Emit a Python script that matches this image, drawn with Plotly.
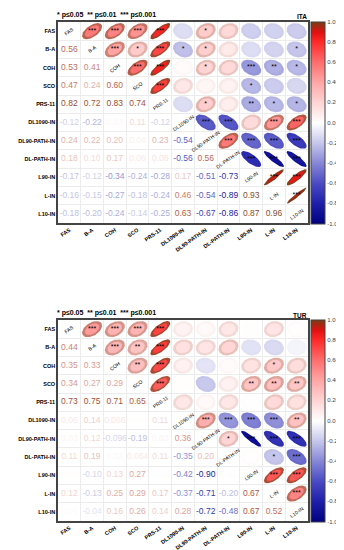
import numpy as np
import plotly.graph_objects as go

labels = ["FAS", "B-A", "COH", "SCO", "PRS-11", "DL1090-IN", "DL90-PATH-IN",
          "DL-PATH-IN", "L90-IN", "L-IN", "L10-IN"]

# lower-triangle correlations, row by row (row i, columns 0..i-1)
ita_lower = [
    [],
    [0.56],
    [0.53, 0.41],
    [0.47, 0.24, 0.60],
    [0.82, 0.72, 0.83, 0.74],
    [-0.12, -0.22, 0.02, 0.11, -0.12],
    [0.24, 0.22, 0.20, 0.04, 0.23, -0.54],
    [0.18, 0.10, 0.17, 0.06, 0.08, -0.56, 0.56],
    [-0.17, -0.12, -0.34, -0.24, -0.28, 0.17, -0.51, -0.73],
    [-0.16, -0.15, -0.27, -0.18, -0.24, 0.46, -0.54, -0.89, 0.93],
    [-0.18, -0.20, -0.24, -0.14, -0.25, 0.63, -0.67, -0.86, 0.87, 0.96],
]
ita_stars = [
    [],
    [3],
    [3, 3],
    [3, 1, 3],
    [3, 3, 3, 3],
    [0, 1, 0, 0, 0],
    [1, 1, 1, 0, 1, 3],
    [0, 0, 0, 0, 0, 3, 3],
    [0, 0, 3, 1, 2, 0, 3, 3],
    [0, 0, 2, 0, 1, 3, 3, 3, 3],
    [0, 1, 1, 0, 1, 3, 3, 3, 3, 3],
]
tur_lower = [
    [],
    [0.44],
    [0.35, 0.33],
    [0.34, 0.27, 0.29],
    [0.73, 0.75, 0.71, 0.65],
    [0.06, 0.14, 0.066, 0.004, 0.11],
    [0.03, 0.12, -0.096, -0.19, 0.03, 0.36],
    [0.11, 0.19, 0.02, 0.064, 0.11, -0.35, 0.20],
    [0.004, -0.10, 0.13, 0.27, 0.006, -0.42, -0.90, 0.01],
    [0.12, -0.13, 0.25, 0.29, 0.17, -0.37, -0.71, -0.20, 0.67],
    [0.01, -0.04, 0.16, 0.26, 0.14, 0.28, -0.72, -0.48, 0.67, 0.52],
]
tur_stars = [
    [],
    [3],
    [3, 3],
    [3, 2, 2],
    [3, 3, 3, 3],
    [0, 0, 0, 0, 0],
    [0, 0, 0, 0, 0, 3],
    [0, 0, 0, 0, 0, 3, 1],
    [0, 0, 0, 2, 0, 3, 3, 0],
    [0, 0, 1, 2, 0, 3, 3, 1, 3],
    [0, 0, 0, 2, 0, 2, 3, 3, 3, 3],
]
cbar_vals = [1.0, 0.8, 0.6, 0.4, 0.2, 0.0, -0.2, -0.4, -0.6, -0.8, -1.0]
cbar_text = ["1.0", "0.80", "0.60", "0.40", "0.20", "0.0", "-0.20", "-0.40", "-0.60", "-0.80", "-1.0"]

FONT = "Liberation Sans, Arial, sans-serif"
stops = [(-1.0, '#000080'), (-0.8, '#1E1EAA'), (-0.6, '#4A4AC4'), (-0.4, '#8686D6'),
         (-0.2, '#C6C6EC'), (0.0, '#FFFFFF'), (0.2, '#FFD4D4'), (0.4, '#FFA6A6'),
         (0.6, '#FF6E6E'), (0.8, '#FF2A2A'), (0.9, '#E01010'), (1.0, '#7A3C14')]


def h2r(h):
    return np.array([int(h[k:k + 2], 16) for k in (1, 3, 5)], dtype=float)


def scol(v):
    for (v0, c0), (v1, c1) in zip(stops[:-1], stops[1:]):
        if v0 <= v <= v1:
            t = (v - v0) / (v1 - v0)
            return h2r(c0) * (1 - t) + h2r(c1) * t
    return h2r(stops[-1][1])


def blend(c, h, w):
    return c * (1 - w) + h2r(h) * w


def rgb(c):
    return 'rgb(%d,%d,%d)' % tuple(int(round(x)) for x in c)


def fmt(v):
    if abs(v) >= 0.1:
        return f"{v:.2f}"
    return f"{v:.2g}"


colorscale = [[(v + 1) / 2, h] for v, h in stops]

fig = go.Figure()

panels = [
    ("ITA", ita_lower, ita_stars, "x", "y", 14, 215),
    ("TUR", tur_lower, tur_stars, "x2", "y2", 312, 513),
]
W, H = 344, 550
n = len(labels)
ang = np.linspace(0, 2 * np.pi, 72)
annotations = []

for name, lower, stars, xa, ya, top, bot in panels:
    # ellipses in upper triangle
    sx, sy, st = [], [], []
    for i in range(n):
        for j in range(i):
            r = lower[i][j]
            d = np.arccos(np.clip(r, -0.999, 0.999))
            ex = np.cos(ang + d / 2)
            ey = np.cos(ang - d / 2)
            c = scol(r)
            if r > 0:
                outer = blend(c, '#6E4A22', min(0.75, 0.85 * r))
            else:
                outer = blend(c, '#101060', 0.12 * abs(r))
            for s, fc in ((1.0, outer), (0.72, c)):
                fig.add_trace(go.Scatter(
                    x=i + 0.44 * s * ex, y=j - 0.44 * s * ey, xaxis=xa, yaxis=ya,
                    mode='lines', fill='toself', fillcolor=rgb(fc),
                    line=dict(width=0), hoverinfo='skip', showlegend=False))
            if stars[i][j] > 0:
                sx.append(i)
                sy.append(j)
                st.append('*' * stars[i][j])
    fig.add_trace(go.Scatter(x=sx, y=sy, text=st, mode='text', xaxis=xa, yaxis=ya,
                             textposition='middle center',
                             textfont=dict(size=7, color='black', family=FONT),
                             hoverinfo='skip', showlegend=False))
    # numbers in lower triangle
    lx, ly, lt, lc = [], [], [], []
    for i in range(n):
        for j in range(i):
            r = lower[i][j]
            c = scol(r)
            if r > 0:
                c = blend(c, '#7A5A30', min(0.8, 0.9 * r))
            else:
                c = blend(c, '#707090', 0.12)
            lx.append(j)
            ly.append(i)
            lt.append(fmt(r))
            lc.append(rgb(c))
    fig.add_trace(go.Scatter(x=lx, y=ly, text=lt, mode='text', xaxis=xa, yaxis=ya,
                             textposition='middle center',
                             textfont=dict(size=8.5, color=lc, family=FONT),
                             hoverinfo='skip', showlegend=False))
    # diagonal labels
    for k, lab in enumerate(labels):
        annotations.append(dict(x=k, y=k, xref=xa, yref=ya, text=lab, showarrow=False,
                                textangle=-35, font=dict(size=5, color='black', family=FONT)))
    # colorbar
    cb = dict(x=303 / W, xanchor='left', y=1 - (top + bot) / 2 / H,
              yanchor='middle', lenmode='pixels', len=bot - top + 1,
              thickness=14, outlinewidth=1, outlinecolor='#444',
              xpad=0, ypad=0, tickmode='array', tickvals=cbar_vals,
              ticktext=cbar_text, ticks='',
              tickfont=dict(size=6, color='#444', family=FONT))
    fig.add_trace(go.Scatter(
        x=[0], y=[0], xaxis=xa, yaxis=ya, mode='markers', hoverinfo='skip', showlegend=False,
        marker=dict(size=1, opacity=0, color=[0], cmin=-1, cmax=1, colorscale=colorscale,
                    showscale=True, colorbar=cb)))
    annotations.append(dict(x=47 / W, y=1 - (top - 7) / H, xref='paper', yref='paper',
                            xanchor='left', yanchor='middle',
                            text='<b>* p≤0.05  ** p≤0.01  *** p≤0.001</b>', showarrow=False,
                            font=dict(size=7, color='black', family=FONT)))
    annotations.append(dict(x=301 / W, y=1 - (top - 5) / H, xref='paper', yref='paper',
                            xanchor='right', yanchor='middle', text='<b>%s</b>' % name,
                            showarrow=False, font=dict(size=6.5, color='black', family=FONT)))

axis_common = dict(
    tickmode='array', tickvals=list(range(n)), ticktext=['<b>%s</b>' % l for l in labels],
    tickfont=dict(size=5.5, color='black', family=FONT), ticks='', showgrid=False,
    zeroline=False, showline=True, mirror=True, linecolor='#444', linewidth=1.5,
    minor=dict(tick0=0.5, dtick=1, showgrid=True, gridcolor='#ececec', gridwidth=0.6, ticks=''),
    fixedrange=True,
)
layout = dict(
    width=W, height=H, margin=dict(l=0, r=0, t=0, b=0),
    paper_bgcolor='white', plot_bgcolor='white', showlegend=False,
    annotations=annotations,
)
for (name, lower, stars, xa, ya, top, bot) in panels:
    xk = 'xaxis' + xa[1:]
    yk = 'yaxis' + ya[1:]
    layout[xk] = dict(axis_common, domain=[50 / W, 300 / W], range=[-0.5, n - 0.5],
                      tickangle=-35, anchor=ya)
    layout[yk] = dict(axis_common, domain=[1 - bot / H, 1 - top / H], range=[n - 0.5, -0.5],
                      anchor=xa)
fig.update_layout(**layout)
fig.write_html("out.html")
